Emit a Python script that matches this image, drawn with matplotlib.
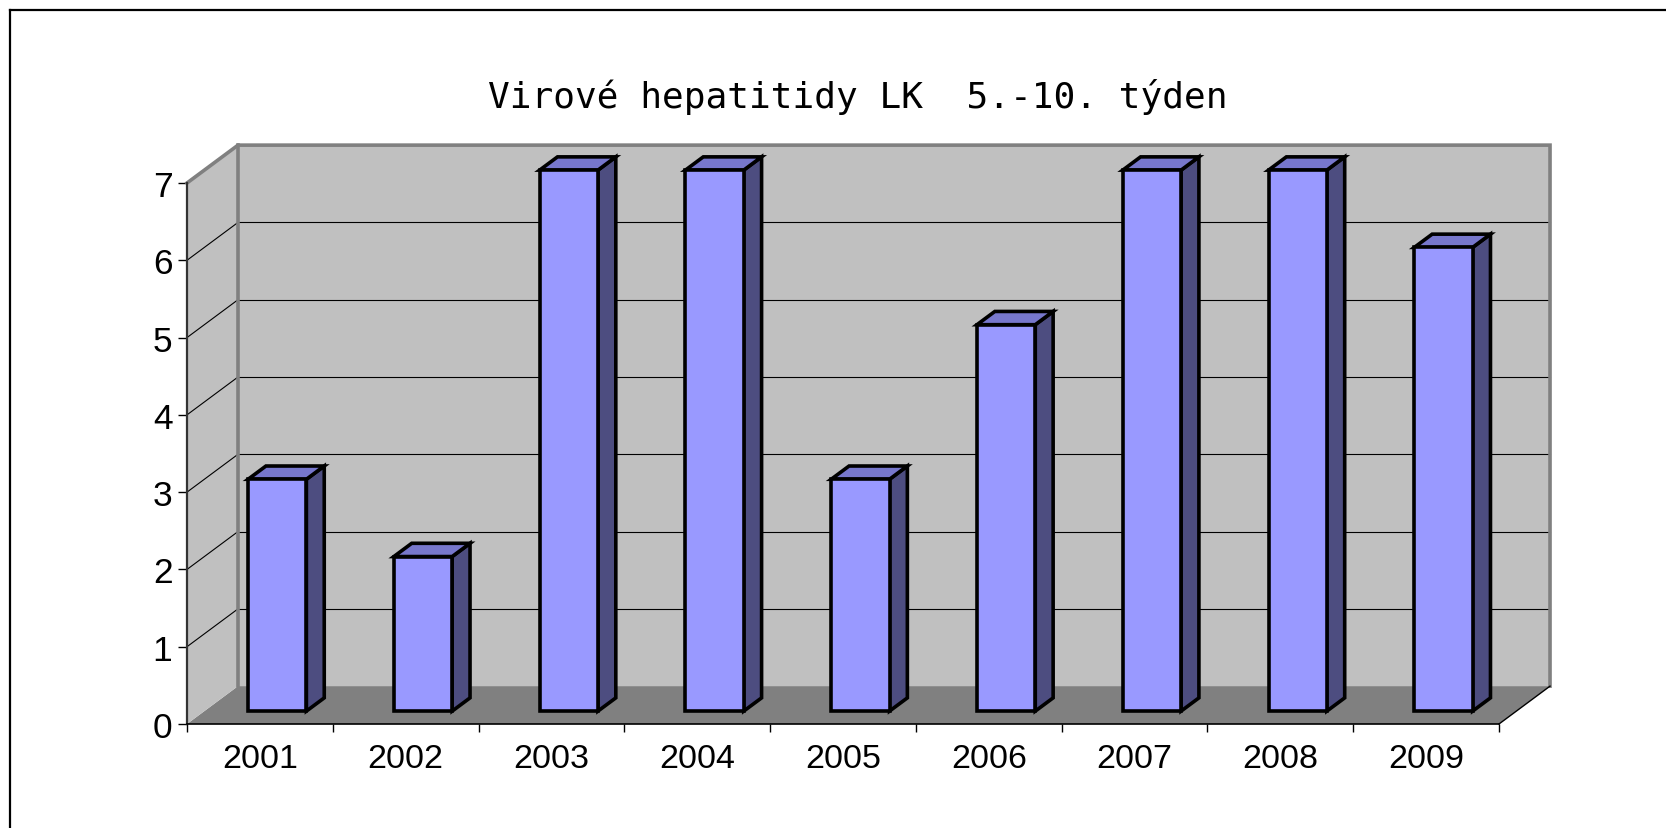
import matplotlib
matplotlib.use('Agg')
import matplotlib.pyplot as plt
from matplotlib.patches import Polygon

years = ['2001', '2002', '2003', '2004', '2005', '2006', '2007', '2008', '2009']
cases = [3, 2, 7, 7, 3, 5, 7, 7, 6]
y_ticks = [0, 1, 2, 3, 4, 5, 6, 7]
title = 'Virové hepatitidy LK  5.-10. týden'

# oblique 3D offset (data units)
DX, DY = 0.35, 0.49
YMAX = 7
N = len(years)
BAR_W = 0.40
F0, F1 = 0.34, 0.69      # bar front/back depth fraction

WALL = '#C0C0C0'
FLOOR = '#808080'
EDGE = '#808080'
FRONT = '#9999FF'
TOP = '#7777CC'
SIDE = '#4D4D80'

fig = plt.figure(figsize=(16.66, 8.29), dpi=100)
fig.patch.set_facecolor('white')

# border (top + left only visible)
fig.add_artist(plt.Line2D([10 / 1666, 1.0], [1 - 11 / 829, 1 - 11 / 829],
                          transform=fig.transFigure, color='black', lw=1.6))
fig.add_artist(plt.Line2D([10 / 1666, 10 / 1666], [0, 1 - 11 / 829],
                          transform=fig.transFigure, color='black', lw=1.6))

ax = fig.add_axes([187 / 1666, 104 / 829, 1312 / 1666, 541 / 829])
ax.set_xlim(0, N)
ax.set_ylim(0, YMAX)
ax.set_facecolor('none')


def poly(pts, fc, ec='none', lw=0, z=1):
    ax.add_patch(Polygon(pts, closed=True, facecolor=fc, edgecolor=ec,
                         linewidth=lw, clip_on=False, zorder=z, joinstyle='miter'))


# floor, walls
poly([(0, 0), (N, 0), (N + DX, DY), (DX, DY)], FLOOR, z=1)
poly([(0, 0), (DX, DY), (DX, YMAX + DY), (0, YMAX)], WALL, z=1)
poly([(DX, DY), (N + DX, DY), (N + DX, YMAX + DY), (DX, YMAX + DY)], WALL, z=1)

# gridlines
for v in y_ticks[1:-1]:
    ax.plot([DX, N + DX], [v + DY, v + DY], color='black', lw=0.8, zorder=2, clip_on=False)
    ax.plot([0, DX], [v, v + DY], color='black', lw=0.8, zorder=2, clip_on=False)

# wall edges
ax.plot([0, DX, N + DX, N + DX], [YMAX, YMAX + DY, YMAX + DY, DY],
        color=EDGE, lw=2.6, zorder=3, clip_on=False, solid_joinstyle='miter')
ax.plot([DX, DX], [DY, YMAX + DY], color=EDGE, lw=2.6, zorder=3, clip_on=False)
ax.plot([N, N + DX], [0, DY], color='black', lw=1.0, zorder=3, clip_on=False)

# bars
for i, v in enumerate(cases):
    x0 = i + 0.5 - BAR_W / 2 + F0 * DX
    x1 = x0 + BAR_W
    y0 = F0 * DY
    ddx = (F1 - F0) * DX
    ddy = (F1 - F0) * DY
    top = v + y0
    poly([(x1, y0), (x1 + ddx, y0 + ddy), (x1 + ddx, top + ddy), (x1, top)],
         SIDE, 'black', 2.6, z=5)
    poly([(x0, top), (x1, top), (x1 + ddx, top + ddy), (x0 + ddx, top + ddy)],
         TOP, 'black', 2.6, z=5)
    poly([(x0, y0), (x1, y0), (x1, top), (x0, top)], FRONT, 'black', 2.6, z=6)

# axes
for s in ['top', 'right']:
    ax.spines[s].set_visible(False)
ax.spines['left'].set_color('#333333')
ax.spines['left'].set_linewidth(1.6)
ax.spines['bottom'].set_color('black')
ax.spines['bottom'].set_linewidth(1.2)
ax.spines['left'].set_zorder(4)
ax.spines['bottom'].set_zorder(4)

ax.set_yticks(y_ticks)
ax.set_yticklabels([str(t) for t in y_ticks])
ax.set_xticks(range(N + 1))
ax.set_xticklabels([])
ax.set_xticks([i + 0.5 for i in range(N)], minor=True)
ax.set_xticklabels(years, minor=True)
ax.tick_params(axis='y', direction='out', length=6.5, width=1.0, pad=4,
               labelsize=25.5, colors='black')
ax.tick_params(axis='x', which='major', direction='out', length=6, width=1.0)
ax.tick_params(axis='x', which='minor', length=0, pad=14, labelsize=24.5)
for lbl in ax.get_xticklabels(minor=True) + ax.get_yticklabels():
    lbl.set_fontfamily('Liberation Sans')

fig.text(858 / 1666, 1 - 97 / 829, title, ha='center', va='center',
         fontsize=26, fontfamily='DejaVu Sans Mono')

fig.savefig('out.png', dpi=100, facecolor='white')
